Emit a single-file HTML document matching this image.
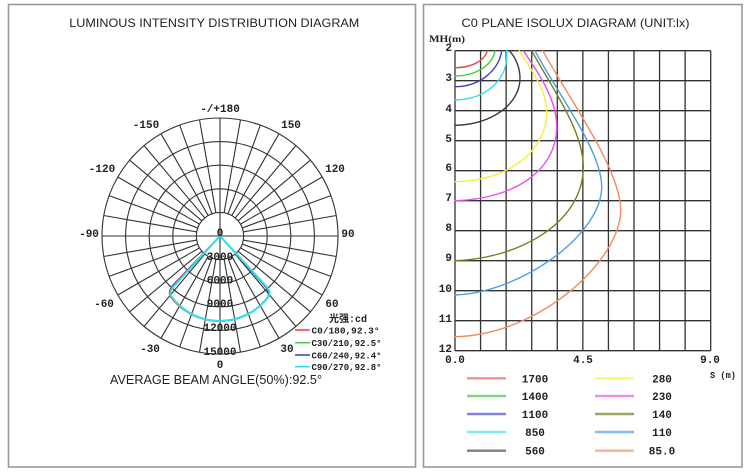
<!DOCTYPE html>
<html><head><meta charset="utf-8"><style>
html,body{margin:0;padding:0;background:#fff;}
svg{display:block;}
.m{font-family:"Liberation Mono","Noto Sans CJK SC",monospace;font-weight:bold;fill:#222;}
.s{font-family:"Liberation Sans",sans-serif;fill:#222;}
</style></head><body>
<svg width="750" height="474" viewBox="0 0 750 474" xmlns="http://www.w3.org/2000/svg">
<rect x="0" y="0" width="750" height="474" fill="#fff"/>
<!-- panel borders -->
<rect x="8.5" y="4.5" width="407" height="462.5" fill="none" stroke="#9a9a9a" stroke-width="1.6"/>
<rect x="423.5" y="4.5" width="318.5" height="462.5" fill="none" stroke="#9a9a9a" stroke-width="1.6"/>

<!-- LEFT PANEL -->
<text class="s" x="214.3" y="27" font-size="12" text-anchor="middle" textLength="290" lengthAdjust="spacingAndGlyphs">LUMINOUS INTENSITY DISTRIBUTION DIAGRAM</text>

<g transform="translate(220 236)" fill="none" stroke="#333" stroke-width="1.1">
<circle r="23.6"/><circle r="47.2"/><circle r="70.8"/><circle r="94.4"/><circle r="118"/>
<line x1="-118" y1="0" x2="118" y2="0"/>
<line x1="0" y1="-118" x2="0" y2="118"/>
<line x1="23.6" x2="118" transform="rotate(10)"/><line x1="23.6" x2="118" transform="rotate(20)"/><line x1="23.6" x2="118" transform="rotate(30)"/>
<line x1="23.6" x2="118" transform="rotate(40)"/><line x1="23.6" x2="118" transform="rotate(50)"/><line x1="23.6" x2="118" transform="rotate(60)"/>
<line x1="23.6" x2="118" transform="rotate(70)"/><line x1="23.6" x2="118" transform="rotate(80)"/>
<line x1="23.6" x2="118" transform="rotate(100)"/><line x1="23.6" x2="118" transform="rotate(110)"/><line x1="23.6" x2="118" transform="rotate(120)"/>
<line x1="23.6" x2="118" transform="rotate(130)"/><line x1="23.6" x2="118" transform="rotate(140)"/><line x1="23.6" x2="118" transform="rotate(150)"/>
<line x1="23.6" x2="118" transform="rotate(160)"/><line x1="23.6" x2="118" transform="rotate(170)"/>
<line x1="23.6" x2="118" transform="rotate(190)"/><line x1="23.6" x2="118" transform="rotate(200)"/><line x1="23.6" x2="118" transform="rotate(210)"/>
<line x1="23.6" x2="118" transform="rotate(220)"/><line x1="23.6" x2="118" transform="rotate(230)"/><line x1="23.6" x2="118" transform="rotate(240)"/>
<line x1="23.6" x2="118" transform="rotate(250)"/><line x1="23.6" x2="118" transform="rotate(260)"/>
<line x1="23.6" x2="118" transform="rotate(280)"/><line x1="23.6" x2="118" transform="rotate(290)"/><line x1="23.6" x2="118" transform="rotate(300)"/>
<line x1="23.6" x2="118" transform="rotate(310)"/><line x1="23.6" x2="118" transform="rotate(320)"/><line x1="23.6" x2="118" transform="rotate(330)"/>
<line x1="23.6" x2="118" transform="rotate(340)"/><line x1="23.6" x2="118" transform="rotate(350)"/>
</g>

<!-- polar curves -->
<g transform="translate(220 236)" fill="none" stroke-width="1.5" stroke-linejoin="round">
<path d="M0,0 L-47,49 Q-52,55 -50,60 A61 61 0 0 0 48,61 Q51,56 45,50 Z" stroke="#e84040"/>
<path d="M0,0 L-46,50 Q-51,56 -49,60 A60.5 60.5 0 0 0 49,60 Q51,56 46,50 Z" stroke="#40d040"/>
<path d="M0,0 L-46,49 Q-51,55 -49,60 A60.5 60.5 0 0 0 48,61 Q50,56 45,50 Z" stroke="#3a3ac8"/>
<path d="M0,0 L-46,50 Q-51,56 -49,60 A60.5 60.5 0 0 0 49,60 Q51,56 46,50 Z" stroke="#2ee0e8" stroke-width="1.9"/>
</g>

<!-- polar labels -->
<g class="m" font-size="11" text-anchor="middle">
<text x="220" y="112">-/+180</text>
<text x="146" y="128">-150</text>
<text x="291" y="128">150</text>
<text x="102" y="172">-120</text>
<text x="335" y="172">120</text>
<text x="89" y="237">-90</text>
<text x="348" y="237">90</text>
<text x="104" y="307">-60</text>
<text x="332" y="307">60</text>
<text x="150" y="352">-30</text>
<text x="287" y="352">30</text>
<text x="220" y="236">0</text>
<text x="220" y="368">0</text>
<text x="220" y="260">3000</text>
<text x="220" y="283.5">6000</text>
<text x="220" y="307">9000</text>
<text x="220" y="331">12000</text>
<text x="220" y="355">15000</text>
</g>

<!-- left legend -->
<text class="m" x="329" y="322" font-size="10">光强:cd</text>
<g stroke-width="1.5">
<line x1="295" y1="330" x2="310" y2="330" stroke="#e84040"/>
<line x1="295" y1="342.7" x2="310" y2="342.7" stroke="#40d040"/>
<line x1="295" y1="355" x2="310" y2="355" stroke="#3a3ac8"/>
<line x1="295" y1="366.7" x2="310" y2="366.7" stroke="#2ee0e8"/>
</g>
<g class="m" font-size="9.5">
<text x="311.5" y="333.5" textLength="68" lengthAdjust="spacingAndGlyphs">C0/180,92.3°</text>
<text x="311.5" y="346" textLength="70" lengthAdjust="spacingAndGlyphs">C30/210,92.5°</text>
<text x="311.5" y="358.5" textLength="70" lengthAdjust="spacingAndGlyphs">C60/240,92.4°</text>
<text x="311.5" y="370" textLength="70" lengthAdjust="spacingAndGlyphs">C90/270,92.8°</text>
</g>
<text class="s" x="110" y="384" font-size="12.5" fill="#333" textLength="212" lengthAdjust="spacingAndGlyphs">AVERAGE BEAM ANGLE(50%):92.5°</text>

<!-- RIGHT PANEL -->
<text class="s" x="575.5" y="27" font-size="12" text-anchor="middle" textLength="228" lengthAdjust="spacingAndGlyphs">C0 PLANE ISOLUX DIAGRAM (UNIT:lx)</text>
<text x="429" y="42" font-family="Liberation Serif,serif" font-weight="bold" font-size="9" fill="#222" textLength="36" lengthAdjust="spacingAndGlyphs">MH(m)</text>

<g stroke="#333" stroke-width="1.3">
<line x1="455" y1="50.7" x2="455" y2="350.7"/>
<line x1="480.57" y1="50.7" x2="480.57" y2="350.7"/>
<line x1="506.14" y1="50.7" x2="506.14" y2="350.7"/>
<line x1="531.71" y1="50.7" x2="531.71" y2="350.7"/>
<line x1="557.28" y1="50.7" x2="557.28" y2="350.7"/>
<line x1="582.85" y1="50.7" x2="582.85" y2="350.7"/>
<line x1="608.42" y1="50.7" x2="608.42" y2="350.7"/>
<line x1="633.99" y1="50.7" x2="633.99" y2="350.7"/>
<line x1="659.56" y1="50.7" x2="659.56" y2="350.7"/>
<line x1="685.13" y1="50.7" x2="685.13" y2="350.7"/>
<line x1="710.7" y1="50.7" x2="710.7" y2="350.7"/>
<line x1="455" y1="50.7" x2="710.7" y2="50.7"/>
<line x1="455" y1="80.7" x2="710.7" y2="80.7"/>
<line x1="455" y1="110.7" x2="710.7" y2="110.7"/>
<line x1="455" y1="140.7" x2="710.7" y2="140.7"/>
<line x1="455" y1="170.7" x2="710.7" y2="170.7"/>
<line x1="455" y1="200.7" x2="710.7" y2="200.7"/>
<line x1="455" y1="230.7" x2="710.7" y2="230.7"/>
<line x1="455" y1="260.7" x2="710.7" y2="260.7"/>
<line x1="455" y1="290.7" x2="710.7" y2="290.7"/>
<line x1="455" y1="320.7" x2="710.7" y2="320.7"/>
<line x1="455" y1="350.7" x2="710.7" y2="350.7"/>
</g>

<g class="m" font-size="11" text-anchor="end">
<text x="452" y="51">2</text>
<text x="452" y="81">3</text>
<text x="452" y="112">4</text>
<text x="452" y="142">5</text>
<text x="452" y="171">6</text>
<text x="452" y="201">7</text>
<text x="452" y="231">8</text>
<text x="452" y="261">9</text>
<text x="452" y="292">10</text>
<text x="452" y="322">11</text>
<text x="452" y="352">12</text>
</g>
<g class="m" font-size="11" text-anchor="middle">
<text x="455" y="363">0.0</text>
<text x="583" y="363">4.5</text>
<text x="710" y="363">9.0</text>
</g>
<text class="m" x="710" y="378" font-size="9.5" textLength="26" lengthAdjust="spacingAndGlyphs">S (m)</text>

<!-- isolux curves -->
<g fill="none" stroke-width="1.4" stroke-linecap="round">
<path d="M455,67.7 C470,67.7 484,62 487.3,50.7" stroke="#e84a4a"/>
<path d="M455,76 C475,76 492,66 495,50.7" stroke="#3ecf3e"/>
<path d="M455,86.7 C480,86.7 499,70 501.7,50.7" stroke="#3f3fc8"/>
<path d="M455,100 C488,99 509,78 506.7,50.7" stroke="#33e0e8"/>
<path d="M509.3,50.7 C516,58 520,68 520,78.3 C520,105 490,125 455,125.3" stroke="#3a3a3a"/>
<path d="M519.3,50.7 C530,68 546.7,90 546.7,111.7 C546.7,150 510,181 455,181.7" stroke="#f2f23a"/>
<path d="M523.3,50.7 C540,75 556.7,100 556.7,126.7 C556.7,170 515,199 455,200.7" stroke="#e84ee8"/>
<path d="M531.7,50.7 C550,85 583.3,130 583.3,166.7 C583.3,225 515,259 455,260.7" stroke="#76801f"/>
<path d="M535,50.7 C555,90 601.7,150 601.7,186.7 C601.7,235 520,293 455,295" stroke="#4a9de8"/>
<path d="M542.7,50.7 C570,100 620.7,170 620.7,210 C620.7,260 540,335 455,336.7" stroke="#f28a60"/>
</g>

<!-- right legend -->
<g stroke-width="2.4" opacity="0.75">
<line x1="467" y1="378.3" x2="506" y2="378.3" stroke="#ee6a6a"/>
<line x1="467" y1="396" x2="506" y2="396" stroke="#4fd04f"/>
<line x1="467" y1="414" x2="506" y2="414" stroke="#5a5ad0"/>
<line x1="467" y1="432" x2="506" y2="432" stroke="#4ae8ee"/>
<line x1="467" y1="450.7" x2="506" y2="450.7" stroke="#555"/>
<line x1="595" y1="378.3" x2="634" y2="378.3" stroke="#f6f650"/>
<line x1="595" y1="396" x2="634" y2="396" stroke="#ec66ec"/>
<line x1="595" y1="414" x2="634" y2="414" stroke="#7e8830"/>
<line x1="595" y1="432" x2="634" y2="432" stroke="#5aa8ee"/>
<line x1="595" y1="450.7" x2="634" y2="450.7" stroke="#f49a76"/>
</g>
<g class="m" font-size="11" text-anchor="middle">
<text x="535" y="382.3">1700</text>
<text x="535" y="400">1400</text>
<text x="535" y="418">1100</text>
<text x="535" y="436">850</text>
<text x="535" y="454.7">560</text>
<text x="662" y="382.3">280</text>
<text x="662" y="400">230</text>
<text x="662" y="418">140</text>
<text x="662" y="436">110</text>
<text x="662" y="454.7">85.0</text>
</g>
</svg>
</body></html>
